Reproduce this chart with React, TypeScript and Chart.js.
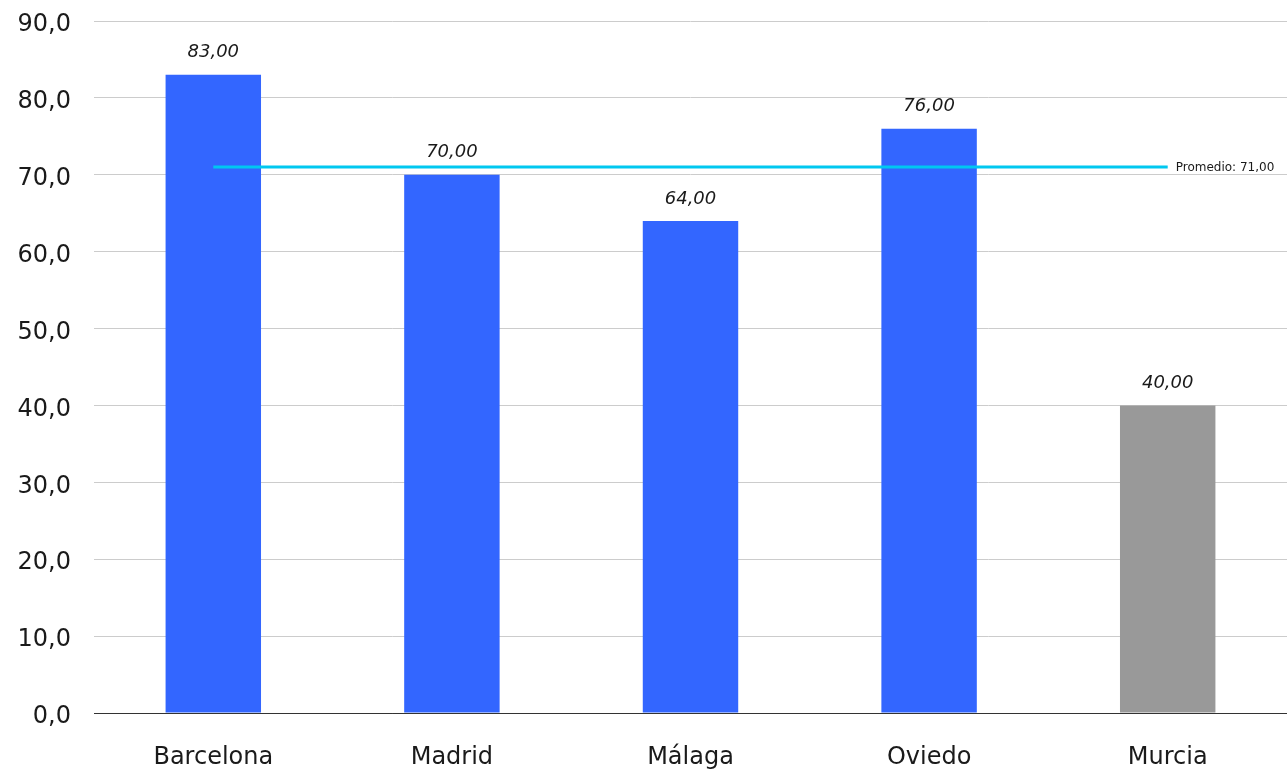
import React, { useEffect, useRef } from "react";
import { Chart, registerables } from "chart.js";

Chart.register(...registerables);

const categories = ["Barcelona", "Madrid", "Málaga", "Oviedo", "Murcia"];
const values = [83, 70, 64, 76, 40];
const barColors = ["#3366ff", "#3366ff", "#3366ff", "#3366ff", "#999999"];
const averageValue = 71;
const averageLine = [71, 71, 71, 71, 71];
const yTicks = [0, 10, 20, 30, 40, 50, 60, 70, 80, 90];

const FONT = "'DejaVu Sans', sans-serif";

const fmt = (v: number, d: number) => v.toFixed(d).replace(".", ",");

const labelsPlugin = {
  id: "valueLabels",
  afterDatasetsDraw(chart: any) {
    const ctx = chart.ctx;
    const meta = chart.getDatasetMeta(0);
    ctx.save();
    ctx.font = `italic 18px ${FONT}`;
    ctx.fillStyle = "#1a1a1a";
    ctx.textAlign = "center";
    ctx.textBaseline = "middle";
    meta.data.forEach((el: any, i: number) => {
      ctx.fillText(fmt(values[i], 2), el.x, el.y - 22);
    });
    const lmeta = chart.getDatasetMeta(1);
    const last = lmeta.data[lmeta.data.length - 1];
    ctx.font = `12px ${FONT}`;
    ctx.textAlign = "left";
    ctx.fillText(`Promedio: ${fmt(averageValue, 2)}`, last.x + 8, last.y + 1);
    ctx.restore();
  },
};

export default function App() {
  const ref = useRef<HTMLCanvasElement | null>(null);
  useEffect(() => {
    if (!ref.current) return;
    const chart = new Chart(ref.current, {
      type: "bar",
      data: {
        labels: categories,
        datasets: [
          {
            type: "bar",
            data: values,
            backgroundColor: barColors,
            borderWidth: 0,
            categoryPercentage: 1,
            barPercentage: 0.4,
            order: 2,
          },
          {
            type: "line",
            data: averageLine,
            borderColor: "#00c8f0",
            borderWidth: 3,
            pointRadius: 0,
            fill: false,
            order: 1,
          } as any,
        ],
      },
      options: {
        animation: false,
        responsive: false,
        maintainAspectRatio: false,
        layout: { padding: { top: 21, right: 0, left: 0, bottom: 0 } },
        plugins: {
          legend: { display: false },
          tooltip: { enabled: false },
        },
        scales: {
          x: {
            grid: { display: false },
            border: { display: true, color: "#333333", width: 1 },
            ticks: {
              color: "#1a1a1a",
              font: { family: FONT, size: 24 },
              padding: 22,
              maxRotation: 0,
            },
            afterFit(scale: any) {
              scale.height = 62;
              scale.paddingLeft = 0;
              scale.paddingRight = 0;
            },
          },
          y: {
            min: 0,
            max: 90,
            afterBuildTicks(scale: any) {
              scale.ticks = yTicks.map((v) => ({ value: v }));
            },
            border: { display: false },
            grid: {
              drawTicks: false,
              color: (c: any) => (c.tick && c.tick.value === 0 ? "#333333" : "#cccccc"),
            },
            ticks: {
              color: "#1a1a1a",
              font: { family: FONT, size: 24 },
              padding: 23,
              labelOffset: 4,
              callback: (v: any) => fmt(Number(v), 1),
            },
            afterFit(scale: any) {
              scale.width = 94;
              scale.paddingTop = 0;
              scale.paddingBottom = 0;
            },
          },
        },
      },
      plugins: [labelsPlugin],
    });
    return () => chart.destroy();
  }, []);
  return (
    <div style={{ position: "absolute", left: 0, top: 0, width: 1287, height: 775, background: "#fff" }}>
      <canvas ref={ref} width={1287} height={775} style={{ display: "block" }} />
    </div>
  );
}
